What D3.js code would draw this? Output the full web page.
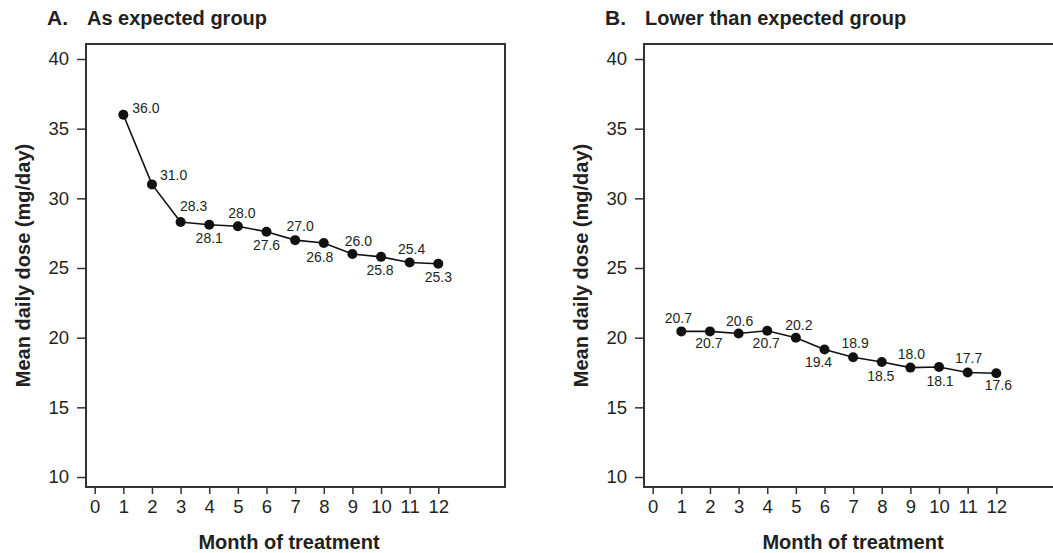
<!DOCTYPE html>
<html>
<head>
<meta charset="utf-8">
<script src="https://cdn.jsdelivr.net/npm/d3@7"></script>
<style>
  body { margin: 0; background: #fff; }
  svg { display: block; font-family: "Liberation Sans", Arial, Helvetica, sans-serif; }
  .tick text { fill: #231f20; }
</style>
</head>
<body>
<svg id="chart" width="1053" height="553"></svg>
<script>
// Data
const months = [1, 2, 3, 4, 5, 6, 7, 8, 9, 10, 11, 12];
const xTicks = [0, 1, 2, 3, 4, 5, 6, 7, 8, 9, 10, 11, 12];
const yTicks = [10, 15, 20, 25, 30, 35, 40];

// A. As expected group
const doseA = [36.0, 31.0, 28.3, 28.1, 28.0, 27.6, 27.0, 26.8, 26.0, 25.8, 25.4, 25.3];
const labelsA = ["36.0", "31.0", "28.3", "28.1", "28.0", "27.6", "27.0", "26.8", "26.0", "25.8", "25.4", "25.3"];

// B. Lower than expected group (dots sit a little under their printed labels)
const doseB = [20.45, 20.45, 20.3, 20.5, 20.0, 19.15, 18.6, 18.25, 17.85, 17.9, 17.5, 17.45];
const labelsB = ["20.7", "20.7", "20.6", "20.7", "20.2", "19.4", "18.9", "18.5", "18.0", "18.1", "17.7", "17.6"];

// label placement: [dx, dy, anchor]
const placeA = [[9, -2, "start"], [8, -4, "start"], [13, -11, "middle"], [0, 18, "middle"],
                [4, -8, "middle"], [0, 18, "middle"], [5, -9, "middle"], [-4, 19, "middle"],
                [6, -8, "middle"], [-1, 18, "middle"], [2, -8, "middle"], [0, 18, "middle"]];
const placeB = [[-3, -8, "middle"], [-1, 17, "middle"], [1, -7, "middle"], [-1, 17, "middle"],
                [3, -8, "middle"], [-6, 17, "middle"], [2, -9, "middle"], [-1, 19, "middle"],
                [1, -9, "middle"], [1, 19, "middle"], [1, -10, "middle"], [2, 17, "middle"]];

const svg = d3.select("#chart");
const ink = "#231f20";

function panel(opts) {
  let left = opts.left, right = left + 419, top = 44, bottom = 487;
  let g = svg.append("g");

  let x = d3.scaleLinear().domain([0, 12]).range([left + 8.7, left + 352.3]);
  let y = d3.scaleLinear().domain([10, 40]).range([477, 59]);

  // box
  g.append("rect")
    .attr("x", left).attr("y", top)
    .attr("width", right - left).attr("height", bottom - top)
    .attr("fill", "none").attr("stroke", "#333").attr("stroke-width", 2);

  // y axis
  let yAx = g.append("g")
    .attr("transform", `translate(${left},0)`)
    .call(d3.axisLeft(y).tickValues(yTicks).tickSize(9).tickPadding(8));
  yAx.select(".domain").remove();
  yAx.selectAll(".tick line").attr("stroke", "#333").attr("stroke-width", 1.5);
  yAx.selectAll(".tick text").attr("font-size", 18.5).attr("font-family", "Liberation Sans, Arial, sans-serif");

  // x axis
  let xAx = g.append("g")
    .attr("transform", `translate(0,${bottom})`)
    .call(d3.axisBottom(x).tickValues(xTicks).tickSize(7).tickPadding(6));
  xAx.select(".domain").remove();
  xAx.selectAll(".tick line").attr("stroke", "#333").attr("stroke-width", 1.5);
  xAx.selectAll(".tick text").attr("font-size", 18.5).attr("font-family", "Liberation Sans, Arial, sans-serif");

  // line + points
  let line = d3.line().x((d, i) => x(months[i])).y(d => y(d));
  g.append("path")
    .datum(opts.values)
    .attr("d", line)
    .attr("fill", "none")
    .attr("stroke", "#111")
    .attr("stroke-width", 1.6);

  g.selectAll("circle.pt")
    .data(opts.values)
    .join("circle")
    .attr("class", "pt")
    .attr("cx", (d, i) => x(months[i]))
    .attr("cy", d => y(d))
    .attr("r", 5)
    .attr("fill", "#111");

  g.selectAll("text.val")
    .data(opts.values)
    .join("text")
    .attr("class", "val")
    .attr("x", (d, i) => x(months[i]) + opts.place[i][0])
    .attr("y", (d, i) => y(d) + opts.place[i][1])
    .attr("text-anchor", (d, i) => opts.place[i][2])
    .attr("font-size", 14)
    .attr("fill", ink)
    .text((d, i) => opts.labels[i]);

  // titles
  g.append("text")
    .attr("x", left - 39).attr("y", 25)
    .attr("font-size", 21).attr("font-weight", "bold").attr("fill", ink)
    .text(opts.letter);
  g.append("text")
    .attr("x", left + 1).attr("y", 25)
    .attr("font-size", 20).attr("font-weight", "bold").attr("fill", ink)
    .text(opts.title);

  g.append("text")
    .attr("transform", `translate(${left - 56},${(top + bottom) / 2}) rotate(-90)`)
    .attr("text-anchor", "middle")
    .attr("font-size", 20).attr("font-weight", "bold").attr("fill", ink)
    .text("Mean daily dose (mg/day)");

  g.append("text")
    .attr("x", opts.xTitleX).attr("y", 549)
    .attr("text-anchor", "middle")
    .attr("font-size", 20).attr("font-weight", "bold").attr("fill", ink)
    .text("Month of treatment");
}

panel({ left: 86, letter: "A.", title: "As expected group", values: doseA, labels: labelsA, place: placeA, xTitleX: 289 });
panel({ left: 644, letter: "B.", title: "Lower than expected group", values: doseB, labels: labelsB, place: placeB, xTitleX: 853 });
</script>
</body>
</html>
